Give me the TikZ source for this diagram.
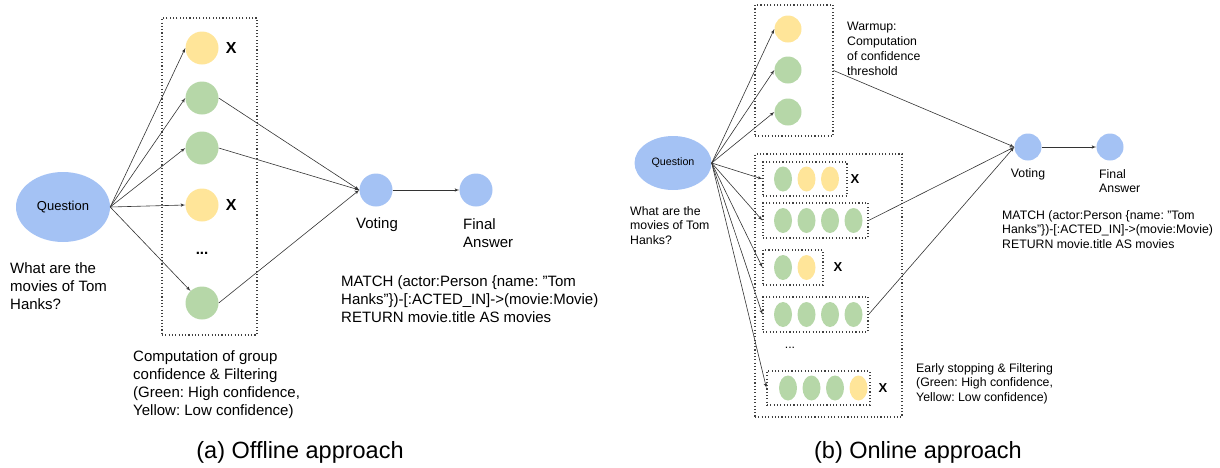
\documentclass[tikz,border=0pt]{standalone}
\usepackage{fontspec}
\setmainfont{Liberation Sans}
\usetikzlibrary{arrows}
\usetikzlibrary{calc}
\usetikzlibrary{positioning}
\usetikzlibrary{shapes.geometric}

\definecolor{qblue}{HTML}{A4C2F4}
\definecolor{okgreen}{HTML}{B6D7A8}
\definecolor{lowyellow}{HTML}{FFE599}
\definecolor{edgegray}{HTML}{333333}

\newcommand{\sq}{\symbol{"22}}
\frenchspacing

\tikzset{
  dotbox/.style={draw=black!75,line width=1.1pt,dash pattern=on 1.1pt off 2.2pt,rectangle,inner sep=0pt},
  ball/.style={circle,inner sep=0pt,minimum size=33pt},
  sball/.style={circle,inner sep=0pt,minimum size=27pt},
  egg/.style={ellipse,inner sep=0pt,minimum width=18pt,minimum height=25pt},
  txt/.style={inner sep=0pt,align=left,anchor=north west},
  bigtxt/.style={font=\fontsize{15}{18}\selectfont},
  smalltxt/.style={font=\fontsize{12.3}{14.8}\selectfont},
  cross/.style={inner sep=0pt,font=\fontsize{16}{16}\selectfont\bfseries},
  scross/.style={inner sep=0pt,font=\fontsize{13}{13}\selectfont\bfseries},
  edge/.style={draw=edgegray,line width=.6pt,->},
}

\begin{document}
\begin{tikzpicture}[x=1pt,y=-1pt,>=latex']
\useasboundingbox (0,0) rectangle (1220,467);

% (a) offline
\node [ellipse,fill=qblue,minimum width=94pt,minimum height=70pt,inner sep=0pt,font=\fontsize{13}{13}\selectfont] (qa) at (63,207) {Question};
\node [dotbox,minimum width=95pt,minimum height=317pt] (grp) at (209.5,176.5) {};
\node [ball,fill=lowyellow] (a1) at (202,48)  {};
\node [ball,fill=okgreen]   (a2) at (202,98)  {};
\node [ball,fill=okgreen]   (a3) at (202,148) {};
\node [ball,fill=lowyellow] (a4) at (202,205) {};
\node [bigtxt]              (adots) at (202,253) {\textbf{...}};
\node [ball,fill=okgreen]   (a5) at (202,303) {};
\node [cross,right=7pt of a1] (xa1) {X};
\node [cross,right=7pt of a4] (xa4) {X};
\node [ball,fill=qblue] (va) at (376,190) {};
\node [ball,fill=qblue] (fa) at (476,190) {};

\foreach \n in {a1,a2,a3,a4} \draw [edge] (qa.east) -- (\n.west);
\draw [edge] (qa.east) -- (a5);
\foreach \n in {a2,a3,a5} \draw [edge] (\n.east) -- (va.west);
\draw [edge] (va.east) -- (fa.west);

\node [txt,bigtxt] (qatext) at (10,262) {What are the\\movies of Tom\\Hanks?};
\node [txt,bigtxt] (grptext) at (133,350) {Computation of group\\confidence \& Filtering\\(Green: High confidence,\\Yellow: Low confidence)};
\node [bigtxt,inner sep=0pt,anchor=north] (vatext) at (377,217) {Voting};
\node [txt,bigtxt] (fatext) at (463,218) {Final\\Answer};
\node [txt,bigtxt] (cqa) at (341,275) {MATCH (actor:Person \{name: \sq Tom\\Hanks\sq\})-[:ACTED\_IN]->(movie:Movie)\\RETURN movie.title AS movies};
\node [font=\fontsize{23.5}{28}\selectfont] (capa) at (300,452) {(a) Offline approach};

% (b) online
\node [ellipse,fill=qblue,minimum width=77pt,minimum height=54pt,inner sep=0pt,font=\fontsize{10.7}{10.7}\selectfont] (qb) at (673,163) {Question};
\node [dotbox,minimum width=78pt,minimum height=131pt] (warm) at (794,70.5) {};
\node [sball,fill=lowyellow] (w1) at (788,29)  {};
\node [sball,fill=okgreen]   (w2) at (788,70)  {};
\node [sball,fill=okgreen]   (w3) at (788,112) {};
\node [dotbox,minimum width=147pt,minimum height=263pt] (early) at (828.5,285.5) {};

\node [dotbox,minimum width=84pt,minimum height=34pt]  (r1) at (805,179)    {};
\node [dotbox,minimum width=105pt,minimum height=35pt] (r2) at (815.5,220.5) {};
\node [dotbox,minimum width=60pt,minimum height=35pt]  (r3) at (793,267.5)  {};
\node [dotbox,minimum width=105pt,minimum height=35pt] (r4) at (815.5,314.5) {};
\node [dotbox,minimum width=103pt,minimum height=34pt] (r5) at (818.5,388)  {};

\node [egg,fill=okgreen]   (r1a) at (783,179)   {};
\node [egg,fill=lowyellow] (r1b) at (806.5,179) {};
\node [egg,fill=lowyellow] (r1c) at (830,179)   {};
\foreach \k in {0,1,2,3} {
  \node [egg,fill=okgreen] (r2\k) at ($(783,220.5)+(23.5*\k,0)$) {};
  \node [egg,fill=okgreen] (r4\k) at ($(783,314.5)+(23.5*\k,0)$) {};
}
\node [egg,fill=okgreen]   (r3a) at (783,267.5) {};
\node [egg,fill=lowyellow] (r3b) at (806.5,267.5) {};
\node [smalltxt] (edots) at (790,348) {...};
\node [egg,fill=okgreen]   (r5a) at (788,388)   {};
\node [egg,fill=okgreen]   (r5b) at (811.5,388) {};
\node [egg,fill=okgreen]   (r5c) at (835,388)   {};
\node [egg,fill=lowyellow] (r5d) at (858.5,388) {};
\node [scross] (xr1) at (855,179) {X};
\node [scross] (xr3) at (838,267.5) {X};
\node [scross] (xr5) at (883,388) {X};

\node [sball,fill=qblue] (vb) at (1028,147) {};
\node [sball,fill=qblue] (fb) at (1110,147) {};

\foreach \n in {w1,w2,w3} \draw [edge] (qb.east) -- (\n.west);
\foreach \n in {r1,r2,r3,r4,r5} \draw [edge] (qb.east) -- (\n.west);
\draw [edge] (warm.east) -- (vb.west);
\draw [edge] (r2.east) -- (vb.west);
\draw [edge] (r4.east) -- (vb.west);
\draw [edge] (vb.east) -- (fb.west);

\node [txt,smalltxt] (qbtext) at (630,206) {What are the\\movies of Tom\\Hanks?};
\node [txt,smalltxt] (warmtext) at (847,22) {Warmup:\\Computation\\of confidence\\threshold};
\node [smalltxt,inner sep=0pt,anchor=north] (vbtext) at (1028,168) {Voting};
\node [txt,smalltxt] (fbtext) at (1099,169) {Final\\Answer};
\node [txt,smalltxt] (cqb) at (1002,210) {MATCH (actor:Person \{name: \sq Tom\\Hanks\sq\})-[:ACTED\_IN]->(movie:Movie)\\RETURN movie.title AS movies};
\node [txt,smalltxt] (earlytext) at (916,363) {Early stopping \& Filtering\\(Green: High confidence,\\Yellow: Low confidence)};
\node [font=\fontsize{23.5}{28}\selectfont] (capb) at (918,452) {(b) Online approach};
\end{tikzpicture}
\end{document}
